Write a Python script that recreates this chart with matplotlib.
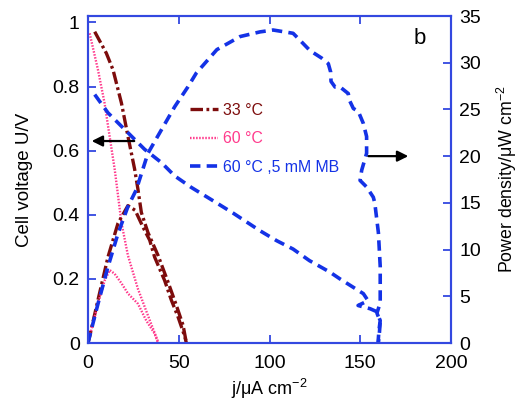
import matplotlib
matplotlib.use("Agg")
import matplotlib.pyplot as plt

plt.rcParams['font.family'] = ['Liberation Sans', 'DejaVu Sans']
plt.rcParams['mathtext.fontset'] = 'custom'
plt.rcParams['mathtext.rm'] = 'Liberation Sans'
plt.rcParams['mathtext.it'] = 'Liberation Sans:italic'
plt.rcParams['lines.scale_dashes'] = False

# ---- data ----
# 33 C (no mediator)
red_j_v = [3.7, 10.1, 13.8, 18.4, 22.0, 25.7, 27.5, 29.4, 33.0, 38.6, 44.1, 48.7, 52.4, 54.2]
red_v = [0.971, 0.904, 0.852, 0.749, 0.645, 0.542, 0.48, 0.407, 0.345, 0.273, 0.19, 0.117, 0.055, 0.0]
red_j_p = [0.0, 0.9, 5.5, 11.0, 16.5, 22.0, 26.0, 30.3, 34.0, 36.7, 42.2, 45.9, 49.6, 53.3, 54.2]
red_p = [0.0, 0.7, 4.6, 9.2, 12.8, 14.7, 14.2, 12.4, 11.0, 9.2, 6.7, 4.6, 2.8, 0.7, 0.0]

# 60 C (no mediator)
pink_j_v = [0.9, 5.5, 9.1, 11.9, 14.7, 16.1, 18.4, 22.0, 27.5, 33.0, 38.6]
pink_v = [0.966, 0.852, 0.749, 0.645, 0.542, 0.48, 0.376, 0.273, 0.169, 0.086, 0.004]
pink_j_p = [0.0, 5.5, 9.2, 12.0, 14.7, 18.4, 22.0, 27.5, 32.1, 36.7, 38.6]
pink_p = [0.0, 4.2, 6.7, 7.8, 7.4, 6.4, 5.3, 4.2, 2.4, 1.0, 0.0]

# 60 C, 5 mM MB
blue_j_v = [3.7, 11.0, 22.0, 31.2, 40.4, 47.8, 57.0, 70.0, 80.0, 94.8, 104.0, 113.0, 122.0,
            133.3, 138.8, 144.4, 151.7, 154.3, 148.8, 155.4, 159.0, 161.0, 160.3, 159.8]
blue_v = [0.775, 0.718, 0.656, 0.604, 0.563, 0.521, 0.485, 0.44, 0.405, 0.35, 0.319, 0.293, 0.257,
          0.221, 0.2, 0.18, 0.154, 0.132, 0.117, 0.107, 0.098, 0.07, 0.039, 0.0]
blue_j_p = [0.0, 0.9, 5.5, 11.0, 16.5, 22.0, 26.6, 33.0, 40.4, 47.8, 55.0, 59.7, 71.0, 83.8, 94.8,
            102.0, 113.0, 116.8, 122.3, 128.7, 132.4, 133.7, 133.9, 136.1, 138.9, 143.4, 144.0,
            146.2, 148.9, 151.7, 153.5, 153.5, 150.8, 149.9, 153.5, 157.2, 158.0, 160.0, 161.0,
            161.0, 159.2, 161.0, 160.6, 160.0]
blue_p = [0.0, 0.7, 4.2, 8.15, 11.7, 14.6, 16.4, 20.3, 22.8, 25.3, 27.4, 28.9, 31.4, 32.8, 33.3,
          33.5, 33.15, 32.4, 31.3, 30.5, 29.9, 29.0, 28.0, 27.4, 27.4, 26.7, 26.0,
          25.1, 24.8, 23.5, 22.1, 20.3, 18.5, 17.4, 16.7, 15.6, 15.0, 11.8, 8.2,
          4.3, 3.2, 2.3, 1.2, 0.0]

labels = ['33 °C', '60 °C', '60 °C ,5 mM MB']
xticks = [0, 50, 100, 150, 200]
yticks_left = [0, 0.2, 0.4, 0.6, 0.8, 1.0]
yticklabels_left = ['0', '0.2', '0.4', '0.6', '0.8', '1']
yticks_right = [0, 5, 10, 15, 20, 25, 30, 35]

# ---- style ----
c_red = '#7d0c0c'
c_pink = '#ff3a8c'
c_blue = '#1432e6'
c_axis = '#3348e0'

fig = plt.figure(figsize=(5.21, 4.07), dpi=100)
ax = fig.add_axes([88/521, 64/407, 363/521, 327/407])
ax2 = ax.twinx()

red_ls = dict(color=c_red, lw=2.4, dashes=(9, 2.5, 2, 2.5))
pink_ls = dict(color=c_pink, lw=1.7, dashes=(1.1, 1.1))
blue_ls = dict(color=c_blue, lw=2.6, dashes=(7.5, 4.5))

l1, = ax.plot(red_j_v, red_v, label=labels[0], **red_ls)
l2, = ax.plot(pink_j_v, pink_v, label=labels[1], **pink_ls)
l3, = ax.plot(blue_j_v, blue_v, label=labels[2], **blue_ls)
ax2.plot(red_j_p, red_p, **red_ls)
ax2.plot(pink_j_p, pink_p, **pink_ls)
ax2.plot(blue_j_p, blue_p, **blue_ls)

ax.set_xlim(0, 200)
ax.set_ylim(0, 1.02)
ax2.set_ylim(0, 35)
ax.set_xticks(xticks)
ax.set_xticklabels([str(t) for t in xticks])
ax.set_yticks(yticks_left)
ax.set_yticklabels(yticklabels_left)
ax2.set_yticks(yticks_right)
ax2.set_yticklabels([str(t) for t in yticks_right])

for a in (ax, ax2):
    for s in a.spines.values():
        s.set_color(c_axis)
        s.set_linewidth(1.5)
ax.tick_params(axis='both', direction='in', length=6, width=1.3, color=c_axis,
               labelsize=14, top=True)
ax.tick_params(axis='x', pad=9)
ax.tick_params(axis='y', right=False, pad=6)
ax2.tick_params(axis='y', direction='in', length=6, width=1.3, color=c_axis,
                labelsize=14, pad=6)

ax.set_xlabel('j/μA cm$^{-2}$', fontsize=13, labelpad=3)
ax.set_ylabel('Cell voltage U/V', fontsize=13.5, labelpad=14)
ax2.set_ylabel('Power density/μW cm$^{-2}$', fontsize=12.8, labelpad=10)

leg = ax2.legend(handles=[l1, l2, l3], loc='upper left',
                 bbox_to_anchor=(190/521, 1 - 103/407), bbox_transform=fig.transFigure,
                 frameon=False, fontsize=11.4, handlelength=1.75, handletextpad=0.35,
                 labelspacing=0.85, borderpad=0, borderaxespad=0)
for t, c in zip(leg.get_texts(), [c_red, c_pink, c_blue]):
    t.set_color(c)

ax.annotate('', xy=(0.5, 0.63), xytext=(27, 0.63),
            arrowprops=dict(arrowstyle='-|>', color='black', lw=1.6, mutation_scale=16))
ax2.annotate('', xy=(178, 20), xytext=(153, 20),
             arrowprops=dict(arrowstyle='-|>', color='black', lw=1.6, mutation_scale=16))

fig.text(420/521, 1 - 38/407, 'b', fontsize=16, ha='center', va='center')

fig.savefig('out.png', dpi=100)
